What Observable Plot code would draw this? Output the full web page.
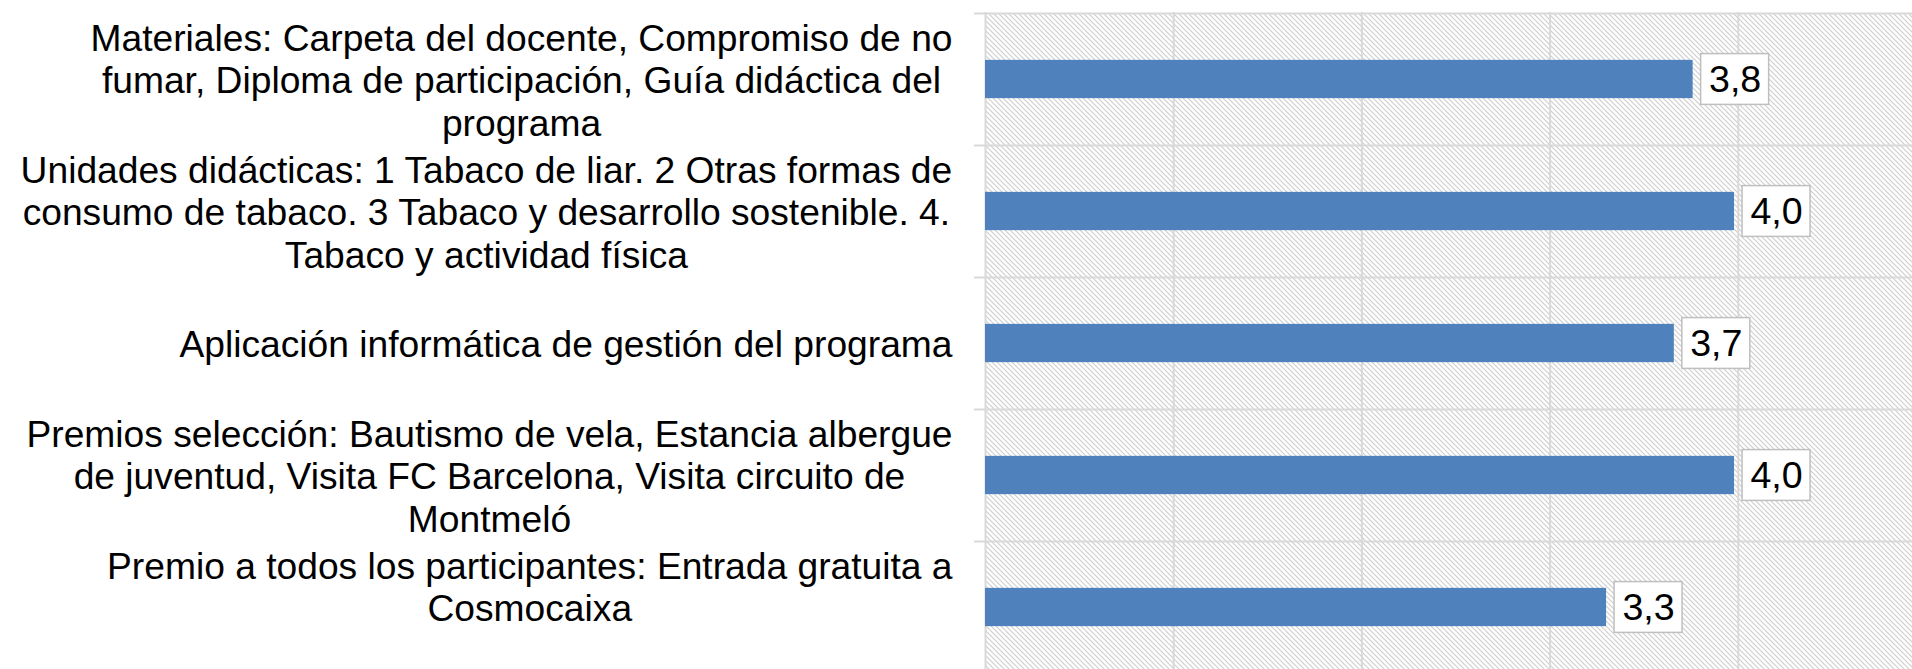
<!DOCTYPE html>
<html><head><meta charset="utf-8">
<script src="https://cdn.jsdelivr.net/npm/d3@7"></script>
<script src="https://cdn.jsdelivr.net/npm/@observablehq/plot@0.6"></script>
<style>
html,body{margin:0;padding:0;background:#fff;overflow:hidden;}
</style></head><body>
<div id="chart"></div>
<script>
// Categories (line breaks as in the original chart)
const categories = [
  "Materiales: Carpeta del docente, Compromiso de no\nfumar, Diploma de participación, Guía didáctica del\nprograma",
  "Unidades didácticas: 1 Tabaco de liar. 2 Otras formas de\nconsumo de tabaco. 3 Tabaco y desarrollo sostenible. 4.\nTabaco y actividad física",
  "Aplicación informática de gestión del programa",
  "Premios selección: Bautismo de vela, Estancia albergue\nde juventud, Visita FC Barcelona, Visita circuito de\nMontmeló",
  "Premio a todos los participantes: Entrada gratuita a\nCosmocaixa\n"
];
const values = [3.76, 3.98, 3.66, 3.98, 3.30];
const gridTicks = [1, 2, 3, 4];
const xDomain = [0, 5];

const rows = categories.map((c, i) => ({
  cat: c, value: values[i],
  label: values[i].toFixed(1).replace(".", ",")
}));

const font = "'Liberation Sans', Arial, Helvetica, sans-serif";
const fs = 37.2;
const W = 1912, H = 669;
const yRange = [12, 673];
const step = (yRange[1] - yRange[0]) / categories.length;
const barThick = 38.5, boxH = 51, boxW = 68, boxGap = 8, labelGap = 33;
const grid = "#d9d9d9";

const ctx = document.createElement("canvas").getContext("2d");
ctx.font = `${fs}px ${font}`;

const labelMarks = rows.map(r => {
  const w = d3.max(r.cat.split("\n"), l => ctx.measureText(l).width);
  return Plot.text([r], {
    x: 0, y: "cat", text: "cat",
    textAnchor: "middle", lineAnchor: "middle", lineHeight: 1.145,
    fontSize: fs, fill: "#000", dx: -(labelGap + w / 2)
  });
});

const plot = Plot.plot({
  width: W, height: H,
  marginLeft: 974, marginRight: 0, marginTop: 12, marginBottom: 0,
  x: {domain: xDomain, range: [985, 1926], axis: null},
  y: {domain: categories, range: yRange, padding: 0, axis: null},
  style: {fontFamily: font, background: "#fff", overflow: "hidden"},
  marks: [
    Plot.barX(rows, {y: "cat", x1: xDomain[0], x2: xDomain[1], fill: "url(#hatch)"}),
    Plot.ruleX(gridTicks, {stroke: grid, strokeWidth: 2}),
    Plot.ruleX([0], {stroke: grid, strokeWidth: 2}),
    Plot.ruleY(rows, {y: "cat", dy: -step / 2, stroke: grid, strokeWidth: 2}),
    Plot.barX(rows, {
      y: "cat", x1: 0, x2: "value", fill: "#4f81bd",
      insetTop: (step - barThick) / 2, insetBottom: (step - barThick) / 2
    }),
    Plot.barX(rows, {
      y: "cat", x1: "value", x2: "value", fill: "#fff", stroke: "#bfbfbf", strokeWidth: 1.5,
      insetLeft: boxGap, insetRight: -(boxGap + boxW),
      insetTop: (step - boxH) / 2, insetBottom: (step - boxH) / 2
    }),
    Plot.text(rows, {
      x: "value", y: "cat", text: "label", fontSize: 37.6, fill: "#000",
      textAnchor: "middle", dx: boxGap + boxW / 2
    }),
    ...labelMarks
  ]
});

// hatch pattern definition
const svg = d3.select(plot);
const pat = svg.insert("defs", ":first-child").append("pattern")
  .attr("id", "hatch").attr("patternUnits", "userSpaceOnUse")
  .attr("width", 5).attr("height", 5);
pat.append("rect").attr("width", 5).attr("height", 5).attr("fill", "#fff");
pat.append("path").attr("d", "M-1,-1L6,6M-1,4L1,6M4,-1L6,1")
  .attr("stroke", "#cfcfcf").attr("stroke-width", 1.2).attr("fill", "none");

document.getElementById("chart").appendChild(plot);
</script>
</body></html>
